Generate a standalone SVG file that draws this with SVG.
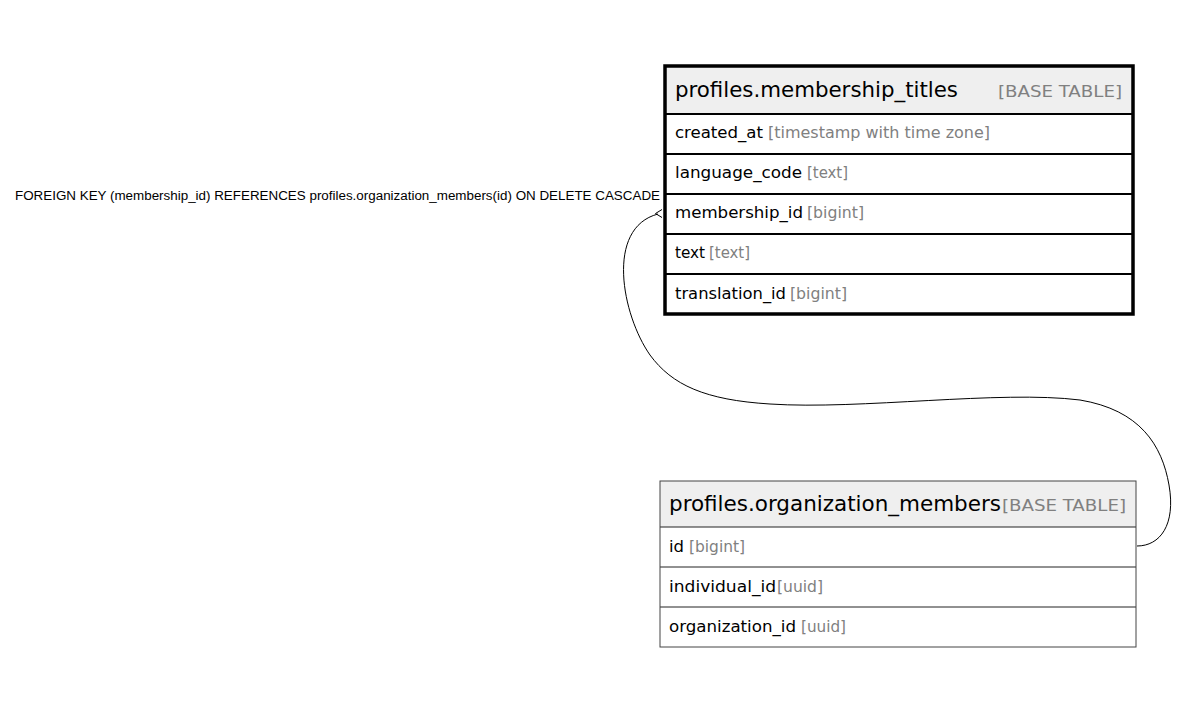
<svg xmlns="http://www.w3.org/2000/svg" width="1199" height="709" viewBox="0 0 1199 709">
<style>
.hdr{font-family:"DejaVu Sans Condensed","Noto Sans",sans-serif;font-size:21px;fill:#000}
.typ{font-family:"DejaVu Sans Condensed","Noto Sans",sans-serif;font-size:16px;fill:#808080}
.col{font-family:"DejaVu Sans Condensed","Noto Sans",sans-serif;font-size:16px;fill:#000}
.lbl{font-family:"Liberation Sans",Arial,sans-serif;font-size:12px;fill:#000}
.edge{fill:none;stroke:#000;stroke-width:1}
</style>
<rect width="1199" height="709" fill="#fff"/>
<g id="connectors">
<path class="edge" d="M1137,546 C1160,546 1176,525 1169,485 C1162,445 1140,410 1080,400 C1000,390 860,410 770,404 C705,400 672,385 650,355 C622,315 605,228 658,214"/>
<polyline class="edge" points="662,209.5 655.5,213.5 662,217.5" stroke-width="1.8"/>
<text class="lbl" x="15" y="200" textLength="645" lengthAdjust="spacingAndGlyphs">FOREIGN KEY (membership_id) REFERENCES profiles.organization_members(id) ON DELETE CASCADE</text>
</g>
<g id="membership_titles">
<rect x="665" y="66" width="468" height="48" fill="#efefef"/>
<rect x="665" y="114" width="468" height="200" fill="#fff"/>
<g stroke="#000" stroke-width="2">
<line x1="665" y1="114" x2="1133" y2="114"/>
<line x1="665" y1="154" x2="1133" y2="154"/>
<line x1="665" y1="194" x2="1133" y2="194"/>
<line x1="665" y1="234" x2="1133" y2="234"/>
<line x1="665" y1="274" x2="1133" y2="274"/>
</g>
<rect x="665" y="66" width="468" height="248" fill="none" stroke="#000" stroke-width="3.5"/>
<text class="hdr" x="675" y="97" textLength="283" lengthAdjust="spacingAndGlyphs">profiles.membership_titles</text>
<text class="typ" x="998" y="97" textLength="124" lengthAdjust="spacingAndGlyphs">[BASE TABLE]</text>
<text class="col" x="675" y="138" textLength="88" lengthAdjust="spacingAndGlyphs">created_at</text>
<text class="typ" x="768" y="138" textLength="222" lengthAdjust="spacingAndGlyphs">[timestamp with time zone]</text>
<text class="col" x="675" y="178" textLength="127" lengthAdjust="spacingAndGlyphs">language_code</text>
<text class="typ" x="807" y="178" textLength="41" lengthAdjust="spacingAndGlyphs">[text]</text>
<text class="col" x="675" y="218" textLength="128" lengthAdjust="spacingAndGlyphs">membership_id</text>
<text class="typ" x="807" y="218" textLength="57" lengthAdjust="spacingAndGlyphs">[bigint]</text>
<text class="col" x="675" y="258" textLength="30" lengthAdjust="spacingAndGlyphs">text</text>
<text class="typ" x="709" y="258" textLength="41" lengthAdjust="spacingAndGlyphs">[text]</text>
<text class="col" x="675" y="299" textLength="111" lengthAdjust="spacingAndGlyphs">translation_id</text>
<text class="typ" x="790" y="299" textLength="57" lengthAdjust="spacingAndGlyphs">[bigint]</text>
</g>
<g id="organization_members">
<rect x="660" y="481" width="476" height="46" fill="#efefef"/>
<rect x="660" y="527" width="476" height="120" fill="#fff"/>
<g stroke="#222" stroke-width="1">
<line x1="660" y1="527" x2="1136" y2="527"/>
<line x1="660" y1="567" x2="1136" y2="567"/>
<line x1="660" y1="607" x2="1136" y2="607"/>
</g>
<rect x="660" y="481" width="476" height="166" fill="none" stroke="#444" stroke-width="1"/>
<text class="hdr" x="669" y="511" textLength="332" lengthAdjust="spacingAndGlyphs">profiles.organization_members</text>
<text class="typ" x="1002" y="511" textLength="124" lengthAdjust="spacingAndGlyphs">[BASE TABLE]</text>
<text class="col" x="669" y="552" textLength="15" lengthAdjust="spacingAndGlyphs">id</text>
<text class="typ" x="689" y="552" textLength="56" lengthAdjust="spacingAndGlyphs">[bigint]</text>
<text class="col" x="669" y="592" textLength="107" lengthAdjust="spacingAndGlyphs">individual_id</text>
<text class="typ" x="777" y="592" textLength="46" lengthAdjust="spacingAndGlyphs">[uuid]</text>
<text class="col" x="669" y="632" textLength="127" lengthAdjust="spacingAndGlyphs">organization_id</text>
<text class="typ" x="801" y="632" textLength="45" lengthAdjust="spacingAndGlyphs">[uuid]</text>
</g>
</svg>
